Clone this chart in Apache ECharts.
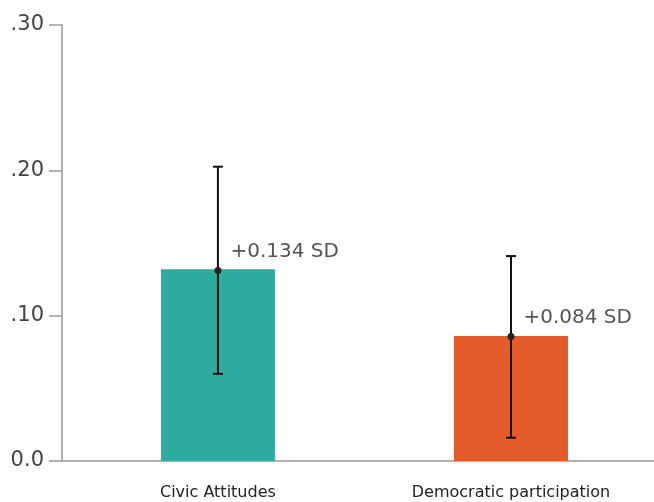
<!DOCTYPE html>
<html><head><meta charset="utf-8">
<script src="https://cdn.jsdelivr.net/npm/echarts@6/dist/echarts.min.js"></script>
<style>html,body{margin:0;padding:0;background:#fff}#c{width:654px;height:502px}</style>
</head><body><div id="c"></div>
<script>
const categories = ['Civic Attitudes', 'Democratic participation'];
const barValues = [0.132, 0.086];
const pointValues = [0.131, 0.0856];
const errLow = [0.060, 0.016];
const errHigh = [0.2025, 0.141];
const valueLabels = ['+0.134 SD', '+0.084 SD'];
const barColors = ['#2eab9f', '#e35b28'];
const yTicks = {0: '0.0', 0.1: '.10', 0.2: '.20', 0.3: '.30'};

const FONT = '"DejaVu Sans", sans-serif';
const chart = echarts.init(document.getElementById('c'));
chart.setOption({
  animation: false,
  grid: {left: 62, top: 25, bottom: 41, right: 0},
  xAxis: {
    type: 'value', min: -0.532, max: 1.488,
    axisLine: {show: true, onZero: false, lineStyle: {color: '#999', width: 1.5}},
    axisTick: {show: false},
    splitLine: {show: false},
    axisLabel: {color: '#222', fontSize: 16, fontFamily: FONT, margin: 24,
      customValues: [0, 1],
      formatter: v => categories[Math.round(v)] || ''}
  },
  yAxis: {
    type: 'value', min: 0, max: 0.3, interval: 0.1,
    axisLine: {show: true, onZero: false, lineStyle: {color: '#999', width: 1.5}},
    axisTick: {show: true, length: 13, lineStyle: {color: '#999', width: 1.5}},
    splitLine: {show: false},
    axisLabel: {color: '#444', fontSize: 21, fontFamily: FONT, margin: 18,
      formatter: v => yTicks[Math.round(v * 10) / 10] || ''}
  },
  series: [
    {type: 'bar', barWidth: 114,
     data: barValues.map((v, i) => ({value: [i, v], itemStyle: {color: barColors[i]}}))},
    {type: 'custom', z: 5,
     data: categories.map((c, i) => [i, errLow[i], errHigh[i]]),
     renderItem: (params, api) => {
       const lo = api.coord([api.value(0), api.value(1)]);
       const hi = api.coord([api.value(0), api.value(2)]);
       const hw = 5;
       const st = {stroke: '#111', lineWidth: 2};
       return {type: 'group', children: [
         {type: 'line', shape: {x1: hi[0], y1: hi[1], x2: lo[0], y2: lo[1]}, style: st},
         {type: 'line', shape: {x1: hi[0] - hw, y1: hi[1], x2: hi[0] + hw, y2: hi[1]}, style: st},
         {type: 'line', shape: {x1: lo[0] - hw, y1: lo[1], x2: lo[0] + hw, y2: lo[1]}, style: st}
       ]};
     }},
    {type: 'scatter', z: 6, symbolSize: 7, itemStyle: {color: '#222', opacity: 1},
     data: pointValues.map((v, i) => ({value: [i, v]})),
     label: {show: true, position: 'right', offset: [4, -19], color: '#555',
       fontSize: 20, fontFamily: FONT,
       formatter: p => valueLabels[p.dataIndex]}}
  ]
});
</script></body></html>
